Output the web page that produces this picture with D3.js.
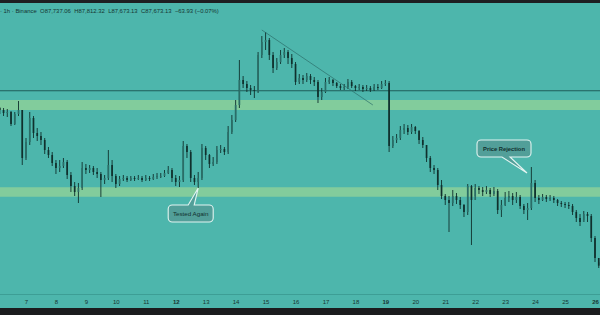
<!DOCTYPE html>
<html>
<head>
<meta charset="utf-8">
<script src="https://cdn.jsdelivr.net/npm/d3@7"></script>
<style>
  body { margin: 0; background: #1c1d1f; }
  svg { display: block; font-family: "Liberation Sans", Arial, sans-serif; }
</style>
</head>
<body>
<svg width="600" height="315"></svg>
<script>
// 3h candles, first one opens Feb 6 03:00 UTC
var startTime = Date.UTC(2025, 1, 6, 3);
var stepHours = 3;
var firstOpen = 93980;

var closes = [
  93900, 93780, 93820, 93340, 93740, 93900, 91980, 92620, 93580, 92980,
  92860, 92700, 92300, 92100, 91780, 91580, 91660, 91820, 91300, 90860,
  90620, 90780, 91580, 91500, 91580, 91420, 91340, 91100, 91180, 91700,
  91260, 90940, 91140, 91180, 91100, 91180, 91140, 91180, 91100, 91180,
  91140, 91220, 91260, 91260, 91380, 91500, 91180, 91020, 91100, 92460,
  92220, 91180, 91020, 91180, 92380, 92100, 91740, 91820, 92300, 92340,
  92220, 93020, 93500, 94100, 95100, 94940, 94780, 94700, 94660, 96100,
  96620, 96700, 96100, 95580, 95820, 96100, 96220, 95980, 95740, 95020,
  95180, 95100, 95260, 95100, 95020, 94420, 94620, 95020, 95100, 94980,
  94860, 94780, 94820, 95020, 94860, 94780, 94820, 94740, 94780, 94700,
  94820, 94780, 94940, 94980, 92460, 92700, 92780, 93100, 93180, 93020,
  93220, 93060, 92700, 92500, 91980, 91580, 91500, 90900, 90460, 90300,
  90180, 90460, 90300, 90100, 89820, 90860, 90300, 90780, 90700, 90620,
  90700, 90540, 90660, 89900, 90100, 90380, 90460, 90300, 90420, 90060,
  89900, 89980, 90980, 90380, 90300, 90420, 90340, 90380, 90300, 90180,
  90140, 90100, 90060, 89820, 89580, 89420, 89740, 89660, 88780, 87980,
  87673
];
var highs = [
  94020, 93980, 93940, 93860, 93820, 94260, 93900, 92780, 93820, 93660,
  93180, 93020, 92780, 92420, 92220, 91900, 91900, 91980, 91900, 91420,
  91020, 90980, 91820, 91740, 91700, 91660, 91580, 91420, 91300, 92300,
  91900, 91340, 91260, 91300, 91260, 91260, 91260, 91300, 91260, 91300,
  91260, 91340, 91380, 91380, 91500, 91660, 91580, 91300, 91260, 92660,
  92540, 92300, 91300, 91420, 92540, 92460, 92140, 92020, 92460, 92500,
  92420, 93260, 93700, 94300, 95900, 95260, 95060, 94900, 94860, 96220,
  96860, 97020, 96780, 96220, 95980, 96300, 96380, 96300, 96140, 95820,
  95340, 95300, 95380, 95340, 95220, 95100, 94780, 95180, 95220, 95140,
  95020, 94940, 94940, 95140, 95100, 94900, 94940, 94900, 94900, 94860,
  94940, 94940, 95060, 95100, 95060, 92860, 92940, 93260, 93340, 93300,
  93340, 93260, 93100, 92820, 92500, 92060, 91700, 91580, 91100, 90540,
  90460, 90700, 90580, 90420, 90140, 90940, 90900, 90940, 90860, 90820,
  90860, 90780, 90820, 90740, 90300, 90620, 90660, 90580, 90620, 90500,
  90140, 90180, 91620, 91100, 90500, 90540, 90500, 90500, 90460, 90340,
  90260, 90220, 90220, 90140, 89900, 89740, 89860, 89820, 89740, 88860,
  87812
];
var lows = [
  93740, 93660, 93620, 93260, 93300, 93660, 91700, 91900, 92500, 92780,
  92660, 92500, 92140, 91980, 91660, 91340, 91420, 91580, 91140, 90620,
  90460, 90180, 90700, 91340, 91380, 91300, 91180, 90420, 90940, 91100,
  91020, 90780, 90860, 91060, 91020, 91060, 91060, 91100, 91020, 91060,
  91060, 91100, 91140, 91180, 91220, 91340, 91020, 90860, 90820, 91020,
  91980, 91020, 90900, 90780, 91100, 91900, 91580, 91660, 91740, 92180,
  92100, 92140, 92940, 93420, 93980, 94780, 94620, 94500, 94380, 94580,
  95980, 96300, 95900, 95380, 95500, 95740, 95980, 95740, 95580, 94900,
  94940, 94940, 95020, 94940, 94860, 94180, 94300, 94580, 94940, 94860,
  94780, 94700, 94700, 94740, 94780, 94660, 94700, 94620, 94660, 94620,
  94660, 94700, 94740, 94860, 92220, 92380, 92580, 92700, 92940, 92900,
  92940, 92940, 92540, 92380, 91820, 91420, 91340, 90700, 90340, 90100,
  89020, 90060, 90140, 89940, 89620, 89700, 88500, 90460, 90540, 90460,
  90540, 90420, 90460, 89740, 89620, 90060, 90220, 90100, 90180, 89940,
  89740, 89500, 89900, 90220, 90140, 90260, 90220, 90260, 90180, 90060,
  90020, 89980, 89940, 89700, 89420, 89260, 89500, 89420, 88620, 87820,
  87580
];

var dayTicks = [7, 8, 9, 10, 11, 12, 13, 14, 15, 16, 17, 18, 19, 20, 21, 22, 23, 24, 25, 26];
var boldDays = [12, 19, 26];

var levelPrice = 94670;
var zones = [[94300, 93900], [90810, 90430]];
var trendPoints = [[Date.UTC(2025, 1, 14, 21), 97100], [Date.UTC(2025, 1, 18, 14), 94100]];
var noteLabels = ["Tested Again", "Price Rejection"];
var noteTimes = [Date.UTC(2025, 1, 12, 18), Date.UTC(2025, 1, 23, 17, 30)];
var notePrices = [90780, 91380];

var headerParts = ["· 1h · Binance", "O87,737.06", "H87,812.32", "L87,673.13", "C87,673.13", "−63.93 (−0.07%)"];

var W = 600, H = 315;
var plotTop = 3, plotBottom = 294;
var bg = "#4db6ac", zoneColor = "#82cc9c", ink = "#10302d";

var svg = d3.select("svg");

var x = d3.scaleUtc()
    .domain([new Date(Date.UTC(2025, 1, 7)), new Date(Date.UTC(2025, 1, 26))])
    .range([26, 595]);
var y = d3.scaleLinear().domain([86500, 98300]).range([295, 0]);

// background + frame strips
svg.append("rect").attr("width", W).attr("height", H).attr("fill", bg);
svg.append("rect").attr("width", W).attr("height", plotTop).attr("fill", "#1e1f22");
svg.append("rect").attr("y", 308).attr("width", W).attr("height", H - 308).attr("fill", "#1b1c1e");

svg.append("defs").append("clipPath").attr("id", "plot")
  .append("rect").attr("x", 0).attr("y", plotTop).attr("width", W).attr("height", plotBottom - plotTop);

var g = svg.append("g").attr("clip-path", "url(#plot)");

// zones
g.selectAll(".zone").data(zones).enter().append("rect")
    .attr("class", "zone")
    .attr("x", 0)
    .attr("width", W)
    .attr("y", function(d) { return y(d[0]); })
    .attr("height", function(d) { return y(d[1]) - y(d[0]); })
    .attr("fill", zoneColor);

// level line
g.append("line")
    .attr("x1", 0).attr("x2", W)
    .attr("y1", y(levelPrice)).attr("y2", y(levelPrice))
    .attr("stroke", "#1f5d5a").attr("stroke-width", 1.1);

// candles
var candles = closes.map(function(c, i) {
    return {
        t: new Date(startTime + i * stepHours * 3600e3),
        o: i ? closes[i - 1] : firstOpen,
        h: highs[i], l: lows[i], c: c
    };
});
var step = x(candles[1].t) - x(candles[0].t);
var bw = step * 0.45;

var cg = g.append("g");
cg.selectAll(".wick").data(candles).enter().append("line")
    .attr("x1", function(d) { return x(d.t); })
    .attr("x2", function(d) { return x(d.t); })
    .attr("y1", function(d) { return y(d.h); })
    .attr("y2", function(d) { return y(d.l); })
    .attr("stroke", ink).attr("stroke-width", 0.9);
cg.selectAll(".body").data(candles).enter().append("rect")
    .attr("x", function(d) { return x(d.t) - bw / 2; })
    .attr("width", bw)
    .attr("y", function(d) { return y(Math.max(d.o, d.c)); })
    .attr("height", function(d) { return Math.max(0.8, Math.abs(y(d.o) - y(d.c))); })
    .attr("fill", function(d) { return d.c >= d.o ? "#2a6d67" : ink; });

// trend line
g.append("line")
    .attr("x1", x(trendPoints[0][0])).attr("y1", y(trendPoints[0][1]))
    .attr("x2", x(trendPoints[1][0])).attr("y2", y(trendPoints[1][1]))
    .attr("stroke", "#2b6f6a").attr("stroke-width", 0.7);

// callouts
function bubble(bx, by, w, h, r, side, b1, b2, tx, ty) {
    var p = d3.path();
    p.moveTo(bx + r, by);
    if (side === "top") { p.lineTo(b1, by); p.lineTo(tx, ty); p.lineTo(b2, by); }
    p.lineTo(bx + w - r, by);
    p.arcTo(bx + w, by, bx + w, by + r, r);
    p.lineTo(bx + w, by + h - r);
    p.arcTo(bx + w, by + h, bx + w - r, by + h, r);
    if (side === "bottom") { p.lineTo(b2, by + h); p.lineTo(tx, ty); p.lineTo(b1, by + h); }
    p.lineTo(bx + r, by + h);
    p.arcTo(bx, by + h, bx, by + h - r, r);
    p.lineTo(bx, by + r);
    p.arcTo(bx, by, bx + r, by, r);
    p.closePath();
    return p.toString();
}

noteLabels.forEach(function(label, i) {
    var tx = x(new Date(noteTimes[i])), ty = y(notePrices[i]);
    var box = i === 0
        ? { x: tx - 30, y: ty + 17, w: 45, h: 17, side: "top", b1: tx - 10, b2: tx - 4 }
        : { x: tx - 50, y: ty - 33, w: 54, h: 17, side: "bottom", b1: tx - 25, b2: tx - 17 };
    svg.append("path")
        .attr("d", bubble(box.x, box.y, box.w, box.h, 4, box.side, box.b1, box.b2, tx, ty))
        .attr("fill", "#529f99")
        .attr("stroke", "#e2f4f1")
        .attr("stroke-width", 1.1);
    svg.append("text")
        .attr("x", box.x + box.w / 2)
        .attr("y", box.y + box.h / 2)
        .attr("dy", "0.35em")
        .attr("text-anchor", "middle")
        .attr("font-size", i === 0 ? 6.2 : 5.8)
        .attr("font-weight", i === 0 ? "normal" : "bold")
        .attr("fill", "#11302e")
        .text(label);
});

// header
var head = svg.append("text")
    .attr("x", 0).attr("y", 13)
    .attr("font-size", 5.9)
    .attr("fill", "#173532");
headerParts.forEach(function(s, i) {
    head.append("tspan").attr("dx", i ? 3.4 : 0).text(s);
});

// x axis
svg.append("line")
    .attr("x1", 0).attr("x2", W).attr("y1", plotBottom + 0.5).attr("y2", plotBottom + 0.5)
    .attr("stroke", "#3d9e95").attr("stroke-width", 1);

var tickDates = dayTicks.map(function(d) { return new Date(Date.UTC(2025, 1, d)); });
var ax = svg.append("g")
    .attr("transform", "translate(0," + (plotBottom + 3) + ")")
    .call(d3.axisBottom(x).tickValues(tickDates).tickSize(0).tickFormat(d3.utcFormat("%-d")));
ax.select(".domain").remove();
ax.selectAll("text")
    .attr("font-size", 6)
    .attr("font-family", "Liberation Sans, Arial, sans-serif")
    .attr("fill", "#173532")
    .attr("font-weight", function(d) { return boldDays.indexOf(d.getUTCDate()) >= 0 ? "bold" : "normal"; });
</script>
</body>
</html>
